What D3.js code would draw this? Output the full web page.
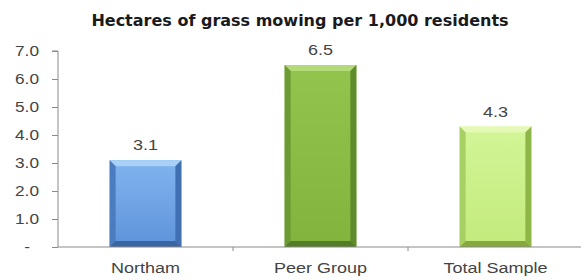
<!DOCTYPE html>
<html>
<head>
<meta charset="utf-8">
<script src="https://cdn.jsdelivr.net/npm/d3@7"></script>
<style>
  body { margin: 0; background: #fff; }
  svg { display: block; }
  .axis path, .axis line { stroke: #8a8a8a; }
  .axis text, .val { font-family: "Liberation Sans", Arial, sans-serif; font-size: 15px; fill: #444; }
</style>
</head>
<body>
<svg id="chart"></svg>
<script>
// data
var categories = ["Northam", "Peer Group", "Total Sample"];
var values = [3.1, 6.5, 4.3];
var yTicks = [0, 1, 2, 3, 4, 5, 6, 7];

// colours per bar: [face top, face bottom, top bevel, left bevel, right bevel, bottom bevel]
var barColors = [
  ["#80b4ef", "#5f93da", "#a9d0f6", "#4c7cc0", "#4170b2", "#3a64a2"],
  ["#93c44e", "#82b43d", "#b3da78", "#6c9a34", "#5f8b2c", "#557c26"],
  ["#d3f597", "#c2ea7c", "#e5f9b6", "#a7d062", "#8eb646", "#86a93e"]
];

var svgWidth = 581, svgHeight = 280;
var svg = d3.select("#chart").attr("width", svgWidth).attr("height", svgHeight);
var defs = svg.append("defs");

var margin = {top: 51, right: -2, bottom: 33, left: 58};
var plotHeight = svgHeight - margin.top - margin.bottom;

// the source image is stretched horizontally, so widen the text a bit
function stretch(sel, s) {
  sel.each(function() {
    var t = d3.select(this);
    var x = +t.attr("x") || 0, y = +t.attr("y") || 0;
    t.attr("x", 0).attr("y", 0)
      .attr("transform", "translate(" + x + "," + y + ") scale(" + s + ",1)");
  });
}

svg.append("text")
  .attr("x", 300).attr("y", 26)
  .attr("text-anchor", "middle")
  .style("font-family", "'DejaVu Sans', Verdana, sans-serif")
  .style("font-weight", "bold")
  .style("font-size", "16px")
  .style("fill", "#1a1a1a")
  .text("Hectares of grass mowing per 1,000 residents");

var xScale = d3.scaleBand()
  .domain(categories)
  .range([margin.left, svgWidth - margin.right])
  .paddingInner(0.59)
  .paddingOuter(0.295);

var yScale = d3.scaleLinear()
  .domain([0, 7])
  .range([margin.top + plotHeight, margin.top]);

// y axis
var yAxis = d3.axisLeft(yScale)
  .tickValues(yTicks)
  .tickSize(6)
  .tickPadding(13)
  .tickFormat(function(d) { return d === 0 ? "-" : d3.format(".1f")(d); });

var yg = svg.append("g").attr("class", "axis")
  .attr("transform", "translate(" + margin.left + ",0)")
  .call(yAxis);
yg.select(".domain").attr("d", "M-6," + yScale(7) + "H0V" + yScale(0));
yg.selectAll(".tick text").filter(function(d) { return d === 0; }).attr("x", -28);
stretch(yg.selectAll(".tick text"), 1.15);

// bars
var bars = svg.append("g").selectAll("g.bar")
  .data(categories.map(function(c, i) { return {cat: c, val: values[i], col: barColors[i], i: i}; }))
  .enter().append("g").attr("class", "bar");

var bev = 6;
var pts = function(a) { return a.map(function(p) { return p.join(","); }).join(" "); };
bars.each(function(d) {
  var g = d3.select(this);
  var x0 = xScale(d.cat), w = xScale.bandwidth();
  var y0 = yScale(d.val), h = yScale(0) - y0;
  var id = "grad" + d.i;
  var grad = defs.append("linearGradient").attr("id", id)
    .attr("x1", 0).attr("y1", 0).attr("x2", 0).attr("y2", 1);
  grad.append("stop").attr("offset", "0%").attr("stop-color", d.col[0]);
  grad.append("stop").attr("offset", "100%").attr("stop-color", d.col[1]);

  g.append("rect").attr("x", x0).attr("y", y0).attr("width", w).attr("height", h)
    .attr("fill", "url(#" + id + ")");
  g.append("polygon").attr("fill", d.col[2])
    .attr("points", pts([[x0, y0], [x0 + w, y0], [x0 + w - bev, y0 + bev], [x0 + bev, y0 + bev]]));
  g.append("polygon").attr("fill", d.col[3])
    .attr("points", pts([[x0, y0], [x0 + bev, y0 + bev], [x0 + bev, y0 + h - bev], [x0, y0 + h]]));
  g.append("polygon").attr("fill", d.col[4])
    .attr("points", pts([[x0 + w, y0], [x0 + w - bev, y0 + bev], [x0 + w - bev, y0 + h - bev], [x0 + w, y0 + h]]));
  g.append("polygon").attr("fill", d.col[5])
    .attr("points", pts([[x0, y0 + h], [x0 + bev, y0 + h - bev], [x0 + w - bev, y0 + h - bev], [x0 + w, y0 + h]]));

  var lbl = g.append("text").attr("class", "val")
    .attr("x", x0 + w / 2).attr("y", y0 - 10)
    .attr("text-anchor", "middle")
    .text(d3.format(".1f")(d.val));
  stretch(lbl, 1.2);
});

// x axis
var xAxis = d3.axisBottom(xScale).tickSize(0).tickPadding(15);
var xg = svg.append("g").attr("class", "axis")
  .attr("transform", "translate(0," + yScale(0) + ")")
  .call(xAxis);
xg.select(".domain").attr("d", "M" + margin.left + ",0H" + (svgWidth - margin.right));
stretch(xg.selectAll(".tick text"), 1.2);
var half = xScale.step() * xScale.paddingInner() / 2;
xg.selectAll("line.sep")
  .data(categories.slice(1))
  .enter().append("line").attr("class", "sep")
  .attr("x1", function(d) { return xScale(d) - half; })
  .attr("x2", function(d) { return xScale(d) - half; })
  .attr("y1", 0).attr("y2", 4)
  .attr("stroke", "#8a8a8a");
</script>
</body>
</html>
